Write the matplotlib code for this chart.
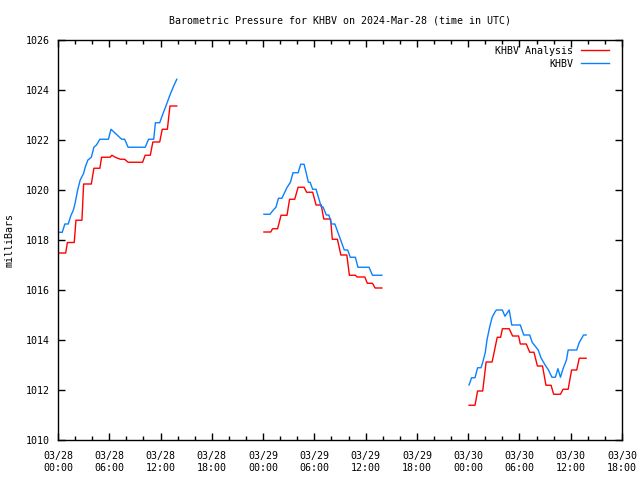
import numpy as np
from matplotlib import pyplot as plt
from matplotlib.ticker import MultipleLocator

# hours since 2024-03-28 00:00 UTC, pressure in mbar
red_h = [
    [0.0, 0.9, 1.1, 1.9, 2.1, 2.8, 3.0, 3.9, 4.2, 4.9, 5.1, 6.1, 6.3, 6.7,
     7.3, 7.8, 8.2, 9.9, 10.2, 10.8, 11.1, 11.9, 12.2, 12.8, 13.1, 13.9],
    [24.1, 24.9, 25.1, 25.7, 26.1, 26.8, 27.1, 27.7, 28.1, 28.8, 29.1, 29.8,
     30.2, 30.8, 31.1, 31.9, 32.1, 32.7, 33.1, 33.8, 34.1, 34.8, 35.0, 35.9,
     36.2, 36.8, 37.1, 37.9],
    [48.1, 48.8, 49.1, 49.7, 50.1, 50.8, 51.4, 51.8, 52.0, 52.8, 53.2, 53.9,
     54.1, 54.8, 55.2, 55.7, 56.1, 56.7, 57.1, 57.7, 58.0, 58.8, 59.1, 59.7,
     60.1, 60.7, 61.0, 61.8],
]
red_p = [
    [1017.48, 1017.48, 1017.9, 1017.9, 1018.79, 1018.79, 1020.24, 1020.24,
     1020.87, 1020.87, 1021.31, 1021.31, 1021.39, 1021.31, 1021.23, 1021.23,
     1021.11, 1021.11, 1021.39, 1021.39, 1021.92, 1021.92, 1022.43, 1022.43,
     1023.36, 1023.36],
    [1018.32, 1018.32, 1018.45, 1018.45, 1018.99, 1018.99, 1019.63, 1019.63,
     1020.11, 1020.11, 1019.91, 1019.91, 1019.4, 1019.4, 1018.84, 1018.84,
     1018.03, 1018.03, 1017.4, 1017.4, 1016.59, 1016.59, 1016.52, 1016.52,
     1016.27, 1016.27, 1016.08, 1016.08],
    [1011.39, 1011.39, 1011.96, 1011.96, 1013.12, 1013.12, 1014.11, 1014.11,
     1014.45, 1014.45, 1014.16, 1014.16, 1013.84, 1013.84, 1013.51, 1013.51,
     1012.96, 1012.96, 1012.19, 1012.19, 1011.83, 1011.83, 1012.03, 1012.03,
     1012.8, 1012.8, 1013.27, 1013.27],
]

blue_h = [
    [0.0, 0.5, 0.8, 1.2, 1.5, 1.8, 2.0, 2.3, 2.6, 3.0, 3.2, 3.5, 3.9, 4.2,
     4.5, 4.9, 5.9, 6.2, 6.7, 7.45, 7.8, 8.2, 10.2, 10.6, 11.2, 11.4, 11.9,
     12.3, 12.6, 13.1, 13.5, 13.9],
    [24.1, 24.8, 25.2, 25.5, 25.8, 26.2, 26.8, 27.2, 27.5, 28.1, 28.4, 28.8,
     29.3, 29.5, 29.8, 30.2, 30.8, 31.0, 31.4, 31.7, 32.0, 32.4, 33.5, 33.9,
     34.2, 34.8, 35.1, 36.4, 36.8, 37.9],
    [48.1, 48.4, 48.8, 49.1, 49.5, 49.7, 50.0, 50.2, 50.5, 50.8, 51.1, 51.3,
     52.0, 52.3, 52.8, 53.1, 54.1, 54.5, 55.2, 55.5, 56.2, 56.5, 57.0, 57.4,
     57.8, 58.2, 58.5, 58.8, 59.1, 59.5, 59.7, 60.7, 61.0, 61.5, 61.8],
]
blue_p = [
    [1018.31, 1018.31, 1018.64, 1018.64, 1018.97, 1019.2, 1019.47, 1020.0,
     1020.4, 1020.67, 1020.93, 1021.2, 1021.31, 1021.71, 1021.8, 1022.03,
     1022.03, 1022.43, 1022.27, 1022.03, 1022.03, 1021.71, 1021.71, 1022.03,
     1022.03, 1022.69, 1022.69, 1023.07, 1023.33, 1023.8, 1024.13, 1024.43],
    [1019.03, 1019.03, 1019.2, 1019.31, 1019.67, 1019.67, 1020.1, 1020.31,
     1020.69, 1020.69, 1021.03, 1021.03, 1020.31, 1020.31, 1020.03, 1020.03,
     1019.33, 1019.33, 1019.0, 1019.0, 1018.64, 1018.64, 1017.6, 1017.6,
     1017.31, 1017.31, 1016.91, 1016.91, 1016.59, 1016.59],
    [1012.2, 1012.49, 1012.49, 1012.89, 1012.89, 1013.1, 1013.5, 1014.0,
     1014.5, 1014.9, 1015.1, 1015.2, 1015.2, 1014.95, 1015.2, 1014.6, 1014.6,
     1014.2, 1014.2, 1013.9, 1013.6, 1013.3, 1013.0, 1012.8, 1012.51, 1012.51,
     1012.85, 1012.51, 1012.85, 1013.2, 1013.6, 1013.6, 1013.9, 1014.2, 1014.2],
]

tick_hours = np.arange(0, 67, 6)
tick_labels = ["03/28\n00:00", "03/28\n06:00", "03/28\n12:00", "03/28\n18:00",
               "03/29\n00:00", "03/29\n06:00", "03/29\n12:00", "03/29\n18:00",
               "03/30\n00:00", "03/30\n06:00", "03/30\n12:00", "03/30\n18:00"]

plt.rcParams["font.family"] = "DejaVu Sans Mono"
plt.rcParams["font.size"] = 7.2

fig = plt.figure(figsize=(6.4, 4.8), dpi=100)
ax = fig.add_axes([58 / 640, 40 / 480, 564 / 640, 400 / 480])

red, blue = "#ff0000", "#0a80ff"
for i, (h, p) in enumerate(zip(red_h, red_p)):
    ax.plot(h, p, color=red, lw=1.0, label="KHBV Analysis" if i == 0 else None)
for i, (h, p) in enumerate(zip(blue_h, blue_p)):
    ax.plot(h, p, color=blue, lw=1.0, label="KHBV" if i == 0 else None)

ax.set_xlim(0, 66)
ax.set_ylim(1010, 1026)
ax.set_xticks(tick_hours)
ax.set_xticklabels(tick_labels)
ax.xaxis.set_minor_locator(MultipleLocator(2))
ax.yaxis.set_major_locator(MultipleLocator(2))
ax.tick_params(which="both", direction="in", top=True, right=True, color="black")
ax.tick_params(which="major", length=5, width=1)
ax.tick_params(which="minor", length=3, width=1)
ax.tick_params(axis="x", pad=8)
ax.tick_params(axis="y", pad=6)
for s in ax.spines.values():
    s.set_linewidth(1)

ax.set_ylabel("milliBars", labelpad=8)
ax.set_title("Barometric Pressure for KHBV on 2024-Mar-28 (time in UTC)",
             fontsize=7.2, pad=12)

ax.legend(loc="upper right", bbox_to_anchor=(1 - 9 / 564, 1 - 2 / 400),
          frameon=False, markerfirst=False, handlelength=2.8,
          borderaxespad=0.0, labelspacing=0.3, handletextpad=0.8)

fig.savefig("out.png", dpi=100)
